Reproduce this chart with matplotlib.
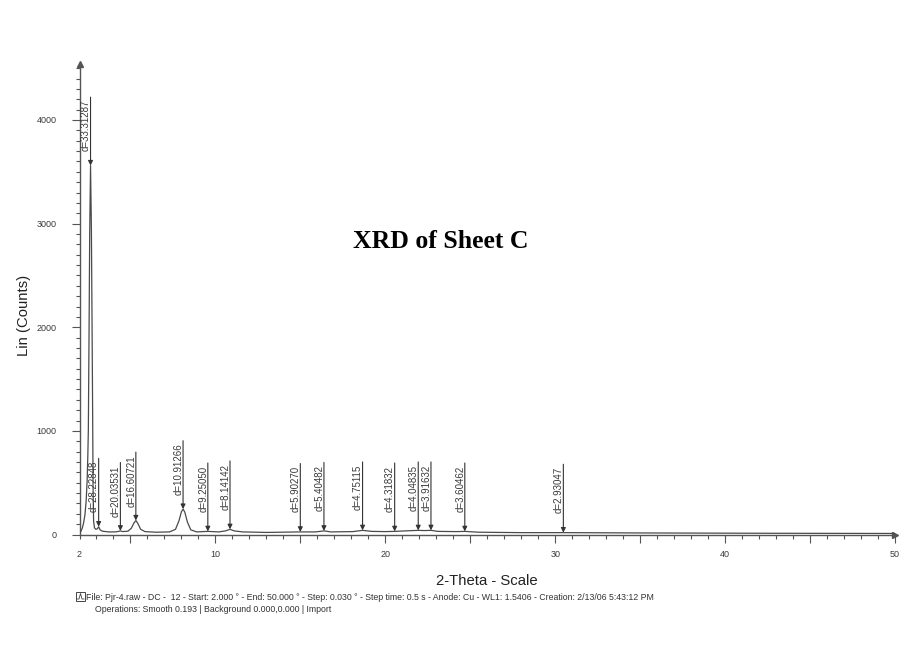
import numpy as np
import matplotlib
matplotlib.use("Agg")
import matplotlib.pyplot as plt
from matplotlib.ticker import FixedLocator, MultipleLocator, FuncFormatter
from matplotlib.patches import Rectangle
from matplotlib.lines import Line2D

# Cu K-alpha1 wavelength (Angstrom)
WAVELENGTH = 1.5406

# Measured scan (2-theta in degrees, intensity in counts)
scan_two_theta = [2.00, 2.08, 2.16, 2.24, 2.32, 2.39, 2.45, 2.49, 2.52, 2.56,
                  2.60, 2.65, 2.70, 2.74, 2.78, 2.80, 2.83, 2.88, 2.96, 3.05,
                  3.13, 3.21, 3.35, 3.70, 4.10, 4.30, 4.41, 4.55, 4.85, 5.05,
                  5.20, 5.32, 5.44, 5.60, 5.85, 6.50, 7.30, 7.65, 7.85, 8.00,
                  8.10, 8.20, 8.35, 8.55, 8.90, 9.55, 10.20, 10.60, 10.86, 11.10,
                  11.60, 13.00, 15.00, 15.90, 16.39, 16.80, 18.10, 18.66, 19.20, 20.00,
                  20.55, 21.20, 21.94, 22.30, 22.69, 23.10, 24.20, 24.68, 25.50, 28.00,
                  30.48, 35.00, 42.00, 50.00]
scan_counts = [12, 30, 60, 110, 190, 320, 520, 760, 1000, 1900,
               2900, 3560, 2950, 2000, 1000, 420, 130, 65, 50, 55,
               75, 45, 32, 25, 25, 30, 35, 28, 32, 60,
               110, 135, 105, 50, 28, 22, 25, 50, 130, 220,
               245, 215, 120, 45, 25, 30, 25, 35, 50, 35,
               25, 20, 25, 25, 35, 25, 28, 40, 30, 28,
               30, 35, 40, 38, 40, 30, 28, 30, 22, 18,
               18, 15, 12, 10]

# Identified peaks: d-spacings (Angstrom) and peak intensities (counts)
d_spacings = [33.31287, 28.22848, 20.03531, 16.60721, 10.91266, 9.25050, 8.14142,
              5.90270, 5.40482, 4.75115, 4.31832, 4.04835, 3.91632, 3.60462, 2.93047]
peak_counts = [3560, 75, 35, 135, 245, 30, 50, 25, 35, 40, 30, 40, 40, 30, 18]

x_tick_labels = ["2", "10", "20", "30", "40", "50"]
y_tick_labels = ["0", "1000", "2000", "3000", "4000"]

footer_line1 = ("File: Pjr-4.raw - DC -  12 - Start: 2.000 \u00b0 - End: 50.000 \u00b0 - "
                "Step: 0.030 \u00b0 - Step time: 0.5 s - Anode: Cu - WL1: 1.5406 - "
                "Creation: 2/13/06 5:43:12 PM")
footer_line2 = "Operations: Smooth 0.193 | Background 0.000,0.000 | Import"

plt.rcParams["font.family"] = ["Liberation Sans", "DejaVu Sans"]

INK = "#3a3a3a"
LINE = "#555555"

fig = plt.figure(figsize=(9.07, 6.56), dpi=100)
fig.patch.set_facecolor("white")
ax = fig.add_axes([79.5 / 907, 1 - 534.5 / 656, (895 - 79.5) / 907, (534.5 - 64) / 656])
ax.set_facecolor("none")

ax.set_xlim(2, 50)
ax.set_ylim(0, 4540)

# diffraction trace
ax.plot(scan_two_theta, scan_counts, color="#4a4a4a", lw=0.9, zorder=3)

# peak markers: arrow down to each peak with its d-spacing
for d, h in zip(d_spacings, peak_counts):
    tt = 2 * np.degrees(np.arcsin(WAVELENGTH / (2 * d)))
    top = h + 660
    ax.annotate("", xy=(tt, h), xytext=(tt, top),
                arrowprops=dict(arrowstyle="-|>", color="#333333", lw=0.8,
                                mutation_scale=7, shrinkA=0, shrinkB=0),
                zorder=4)
    ax.annotate(f"d={d:.5f}", xy=(tt, top), xytext=(0.3, -2),
                textcoords="offset points", rotation=90, ha="right", va="top",
                fontsize=7, color=INK, zorder=5)

# axes styling
for side in ("top", "right"):
    ax.spines[side].set_visible(False)
for side in ("left", "bottom"):
    ax.spines[side].set_color(LINE)
    ax.spines[side].set_linewidth(1.0)

x_major = [2] + list(range(5, 51, 5))
ax.xaxis.set_major_locator(FixedLocator(x_major))
ax.xaxis.set_minor_locator(MultipleLocator(1))
x_label_map = {int(s): s for s in x_tick_labels}
ax.xaxis.set_major_formatter(FuncFormatter(lambda v, p: x_label_map.get(int(round(v)), "")))

ax.yaxis.set_major_locator(FixedLocator([int(s) for s in y_tick_labels]))
ax.yaxis.set_minor_locator(MultipleLocator(100))
ax.set_yticklabels(y_tick_labels)

ax.tick_params(axis="both", which="both", direction="out", colors=LINE,
               labelcolor=INK, labelsize=6.5, width=0.8)
ax.tick_params(axis="x", which="major", length=6, pad=5)
ax.tick_params(axis="x", which="minor", length=3)
ax.tick_params(axis="y", which="major", length=6, pad=10.5)
ax.tick_params(axis="y", which="minor", length=3)
ax.xaxis.get_major_ticks()[0].tick1line.set_markersize(3)

# arrow heads at the axis ends
ax.plot(0, 1, marker="^", ms=4, color=LINE, transform=ax.transAxes, clip_on=False)
ax.plot(1, 0, marker=">", ms=4, color=LINE, transform=ax.transAxes, clip_on=False)

ax.set_xlabel("2-Theta - Scale", fontsize=10.7, color="#222222", labelpad=11)
ax.set_ylabel("Lin (Counts)", fontsize=10.7, color="#222222")
ax.yaxis.set_label_coords((31 - 79.5) / 815.5, (534.5 - 315) / 470.5)

fig.text(441 / 907, 1 - 241 / 656, "XRD of Sheet C", ha="center", va="center",
         fontsize=18.5, fontweight="bold", family=["Liberation Serif", "DejaVu Serif"],
         color="black")

# footer with scan parameters
fig.patches.append(Rectangle((76 / 907, 1 - 601 / 656), 9 / 907, 9 / 656,
                             transform=fig.transFigure, fill=False,
                             edgecolor="#444444", lw=0.7))
fig.lines.append(Line2D([77 / 907, 79 / 907, 80.5 / 907, 82 / 907, 84 / 907],
                        [1 - 599 / 656, 1 - 599 / 656, 1 - 593.5 / 656, 1 - 599 / 656, 1 - 599 / 656],
                        transform=fig.transFigure, color="#444444", lw=0.6))
fig.text(86 / 907, 1 - 597 / 656, footer_line1, ha="left", va="center",
         fontsize=6.3, color="#333333")
fig.text(95 / 907, 1 - 610 / 656, footer_line2, ha="left", va="center",
         fontsize=6.3, color="#333333")

fig.savefig("out.png", dpi=100, facecolor="white")
